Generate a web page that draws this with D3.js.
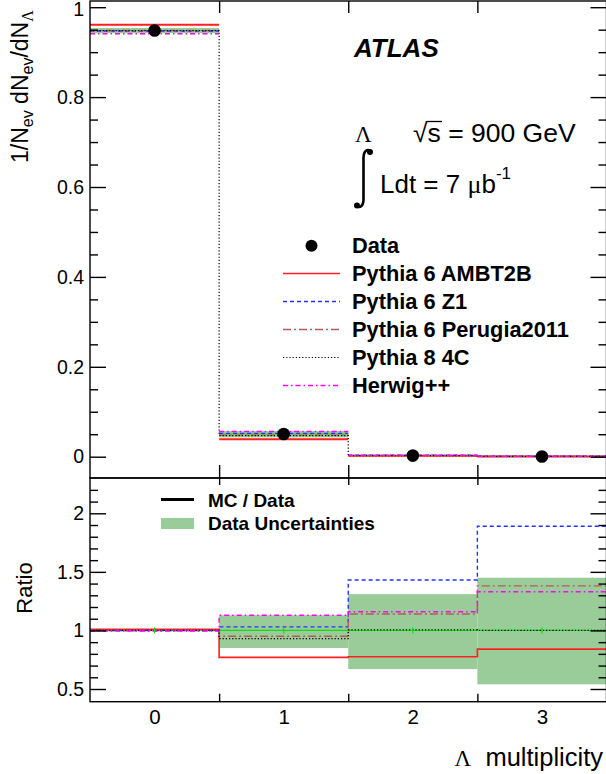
<!DOCTYPE html>
<html>
<head>
<meta charset="utf-8">
<script src="https://cdn.jsdelivr.net/npm/d3@7"></script>
<style>
  html, body { margin: 0; padding: 0; background: #fff; }
  svg { display: block; }
  text { font-family: "Liberation Sans", Arial, Helvetica, sans-serif; fill: #000; }
</style>
</head>
<body>
<svg id="chart" width="606" height="774"></svg>
<script>
// ---------------- data ----------------
const categories = [0, 1, 2, 3];
const binEdges = [-0.5, 0.5, 1.5, 2.5, 3.5];

const dataValues = [0.948, 0.0505, 0.0025, 0.0006];
const dataUncLo = [0.994, 0.85, 0.67, 0.54];   // relative (ratio panel band)
const dataUncHi = [1.006, 1.13, 1.31, 1.45];

const ambt2bValues   = [0.961, 0.0389, 0.0019, 0.0005];
const z1Values       = [0.947, 0.052, 0.0036, 0.0011];
const perugiaValues  = [0.948, 0.048, 0.0029, 0.0008];
const pythia8Values  = [0.948, 0.047, 0.0025, 0.0006];
const herwigValues   = [0.941, 0.056, 0.0029, 0.0008];

const ambt2bRatio  = [1.01, 0.77, 0.775, 0.84];
const z1Ratio      = [1.0, 1.03, 1.43, 1.89];
const perugiaRatio = [1.0, 0.95, 1.14, 1.38];
const pythia8Ratio = [1.0, 0.93, 1.005, 1.0];
const herwigRatio  = [0.995, 1.13, 1.16, 1.33];

const topTickValues = [0, 0.2, 0.4, 0.6, 0.8, 1];
const topTickLabels = ["0", "0.2", "0.4", "0.6", "0.8", "1"];
const ratioTickValues = [0.5, 1, 1.5, 2];
const ratioTickLabels = ["0.5", "1", "1.5", "2"];
const xTickLabels = ["0", "1", "2", "3"];

const seriesNames = ["Pythia 6 AMBT2B", "Pythia 6 Z1", "Pythia 6 Perugia2011", "Pythia 8 4C", "Herwig++"];

// ---------------- styles ----------------
const series = [
  { name: seriesNames[0], top: ambt2bValues, ratio: ambt2bRatio, color: "#ff2020", dash: null, w: 1.6, vTop: false },
  { name: seriesNames[1], top: z1Values, ratio: z1Ratio, color: "#2233ff", dash: "4,3", w: 1.4, vTop: false },
  { name: seriesNames[2], top: perugiaValues, ratio: perugiaRatio, color: "#b85a5a", dash: "8,3,2,3", w: 1.4, vTop: false },
  { name: seriesNames[3], top: pythia8Values, ratio: pythia8Ratio, color: "#000000", dash: "1.2,2", w: 1.2, vTop: true },
  { name: seriesNames[4], top: herwigValues, ratio: herwigRatio, color: "#ff00ff", dash: "5,3,1.5,3", w: 1.4, vTop: false }
];

const svg = d3.select("#chart");
svg.append("rect").attr("width", 606).attr("height", 774).attr("fill", "#fff");

const X0 = 90, X1 = 606.5;
const x = d3.scaleLinear().domain([-0.5, 3.5]).range([X0, X1]);
const yTop = d3.scaleLinear().domain([0, 1]).range([456.7, 7.2]);
const yRat = d3.scaleLinear().domain([0.5, 2]).range([689, 513.3]);
const TOP_Y0 = 1, TOP_Y1 = 478, RAT_Y0 = 478, RAT_Y1 = 701.7;

function stepPath(vals, yScale, withVerticals) {
  let d = "";
  vals.forEach((v, i) => {
    const xa = x(binEdges[i]), xb = x(binEdges[i + 1]), yy = yScale(v);
    if (i === 0 || !withVerticals) d += `M${xa},${yy}`;
    else d += `L${xa},${yy}`;
    d += `L${xb},${yy}`;
  });
  return d;
}

// ---------------- top panel ----------------
const gTop = svg.append("g");
gTop.selectAll("rect.band").data(categories).enter().append("rect")
  .attr("x", i => x(binEdges[i])).attr("width", i => x(binEdges[i + 1]) - x(binEdges[i]))
  .attr("y", i => yTop(dataValues[i] * dataUncHi[i]))
  .attr("height", i => Math.max(1, yTop(dataValues[i] * dataUncLo[i]) - yTop(dataValues[i] * dataUncHi[i])))
  .attr("fill", "#99cc99");
gTop.append("path").attr("d", stepPath(dataValues, yTop, false))
  .attr("fill", "none").attr("stroke", "#22cc22").attr("stroke-width", 1);

series.forEach(s => {
  gTop.append("path").attr("d", stepPath(s.top, yTop, s.vTop))
    .attr("fill", "none").attr("stroke", s.color).attr("stroke-width", s.name === seriesNames[0] ? 2 : s.w)
    .attr("stroke-dasharray", s.dash);
});
gTop.selectAll("circle.pt").data(categories).enter().append("circle")
  .attr("cx", i => x(i)).attr("cy", i => yTop(dataValues[i])).attr("r", 6.3).attr("fill", "#000");

// ---------------- ratio panel ----------------
const gRat = svg.append("g");
gRat.selectAll("rect.band").data(categories).enter().append("rect")
  .attr("x", i => x(binEdges[i])).attr("width", i => x(binEdges[i + 1]) - x(binEdges[i]))
  .attr("y", i => yRat(dataUncHi[i]))
  .attr("height", i => yRat(dataUncLo[i]) - yRat(dataUncHi[i]))
  .attr("fill", "#99cc99");
gRat.append("path").attr("d", stepPath(categories.map(() => 1), yRat, true))
  .attr("fill", "none").attr("stroke", "#11dd11").attr("stroke-width", 1.2);
series.forEach(s => {
  gRat.append("path").attr("d", stepPath(s.ratio, yRat, true))
    .attr("fill", "none").attr("stroke", s.color).attr("stroke-width", s.w)
    .attr("stroke-dasharray", s.dash);
});
gRat.selectAll("line.mk").data(categories).enter().append("line")
  .attr("x1", i => x(i)).attr("x2", i => x(i))
  .attr("y1", yRat(1) - 3).attr("y2", yRat(1) + 3)
  .attr("stroke", "#11dd11").attr("stroke-width", 1.2);

// ---------------- frames & axes ----------------
function frame(y0, y1) {
  svg.append("rect").attr("x", X0).attr("y", y0).attr("width", X1 - X0).attr("height", y1 - y0)
    .attr("fill", "none").attr("stroke", "#000").attr("stroke-width", 1.4);
}
frame(TOP_Y0, TOP_Y1);
frame(RAT_Y0, RAT_Y1);

function yAxes(scale, majors, labels, minors) {
  const fmt = d => labels[majors.indexOf(d)];
  const gL = svg.append("g").attr("transform", `translate(${X0},0)`)
    .call(d3.axisLeft(scale).tickValues(majors).tickSize(-16).tickPadding(6).tickFormat(fmt));
  svg.append("g").attr("transform", `translate(${X0},0)`)
    .call(d3.axisLeft(scale).tickValues(minors).tickSize(-8).tickFormat(""));
  svg.append("g").attr("transform", `translate(${X1},0)`)
    .call(d3.axisRight(scale).tickValues(majors).tickSize(-16).tickFormat(""));
  svg.append("g").attr("transform", `translate(${X1},0)`)
    .call(d3.axisRight(scale).tickValues(minors).tickSize(-8).tickFormat(""));
  gL.selectAll("text").style("font-size", "19.5px").attr("font-family", "Liberation Sans, Arial, sans-serif");
  return gL;
}
const topMinors = d3.range(1, 20).filter(i => i % 4 !== 0).map(i => i * 0.05);
const topAxis = yAxes(yTop, topTickValues, topTickLabels, topMinors);
// keep the topmost label inside the picture
topAxis.selectAll(".tick text").filter(d => d === 1).attr("dy", "0.42em");
const ratMinors = d3.range(6, 23).filter(i => i % 5 !== 0).map(i => i * 0.1);
yAxes(yRat, ratioTickValues, ratioTickLabels, ratMinors);

const innerEdges = binEdges.slice(1, -1);
svg.append("g").attr("transform", `translate(0,${TOP_Y1})`)
  .call(d3.axisBottom(x).tickValues(innerEdges).tickSize(-13).tickFormat(""));
svg.append("g").attr("transform", `translate(0,${TOP_Y0})`)
  .call(d3.axisTop(x).tickValues(innerEdges).tickSize(-12).tickFormat(""));
svg.append("g").attr("transform", `translate(0,${RAT_Y0})`)
  .call(d3.axisTop(x).tickValues(innerEdges).tickSize(-7).tickFormat(""));
svg.append("g").attr("transform", `translate(0,${RAT_Y1})`)
  .call(d3.axisBottom(x).tickValues(innerEdges).tickSize(-8).tickFormat(""));
const xl = svg.append("g").attr("transform", `translate(0,${RAT_Y1})`)
  .call(d3.axisBottom(x).tickValues(categories).tickSize(0).tickPadding(8).tickFormat(d => xTickLabels[d]));
xl.selectAll("text").style("font-size", "20.5px");

svg.selectAll(".domain").remove();
svg.selectAll(".tick line").attr("stroke", "#000").attr("stroke-width", 1.4);

// ---------------- titles ----------------
svg.append("text").attr("transform", "translate(28,163) rotate(-90)")
  .style("font-size", "23px")
  .html('1/N<tspan dy="5" style="font-size:16px">ev</tspan><tspan dy="-5"> dN</tspan><tspan dy="5" style="font-size:16px">ev</tspan><tspan dy="-5">/dN</tspan><tspan dy="5" style="font-size:16px;font-family:Liberation Serif, serif">Λ</tspan>');

svg.append("text").attr("transform", "translate(32,588) rotate(-90)")
  .attr("text-anchor", "middle").style("font-size", "22px").text("Ratio");

const xt = svg.append("text").attr("x", 603).attr("y", 766).attr("text-anchor", "end").style("font-size", "25.5px");
xt.append("tspan").style("font-family", "Liberation Serif, serif").style("font-size", "23px").text("Λ");
xt.append("tspan").text("\u00a0\u00a0multiplicity");

svg.append("text").attr("x", 354).attr("y", 57).style("font-size", "26px")
  .style("font-weight", "bold").style("font-style", "italic").text("ATLAS");

svg.append("text").attr("x", 355).attr("y", 142).style("font-family", "Liberation Serif, serif")
  .style("font-size", "23px").text("Λ");
const sq = svg.append("text").attr("x", 413).attr("y", 142).style("font-size", "26.5px");
sq.append("tspan").text("√");
sq.append("tspan").text("s");
sq.append("tspan").text(" = 900 GeV");
svg.append("line").attr("x1", 427).attr("x2", 442).attr("y1", 121.5).attr("y2", 121.5)
  .attr("stroke", "#000").attr("stroke-width", 1.3);

svg.append("path").attr("d", "M370.5,151 C367,148.5 363.5,151 363.5,158 L363.5,199 C363.5,206 360,208.5 356.5,206")
  .attr("fill", "none").attr("stroke", "#000").attr("stroke-width", 2.6);
svg.append("circle").attr("cx", 370).attr("cy", 152).attr("r", 3).attr("fill", "#000");
svg.append("circle").attr("cx", 357).attr("cy", 205.5).attr("r", 3).attr("fill", "#000");
const lt = svg.append("text").attr("x", 380).attr("y", 193).style("font-size", "26px");
lt.append("tspan").text("Ldt = 7 ");
lt.append("tspan").style("font-family", "Liberation Serif, serif").text("μ");
lt.append("tspan").text("b");
lt.append("tspan").attr("dy", -14).style("font-size", "17px").text("-1");

// ---------------- legends ----------------
const leg = svg.append("g");
const legRows = [253.3, 281, 309, 337, 365, 393];
leg.append("circle").attr("cx", 311.5).attr("cy", 245.7).attr("r", 6).attr("fill", "#000");
leg.append("text").attr("x", 352).attr("y", legRows[0]).style("font-size", "21.8px")
  .style("font-weight", "bold").text("Data");
series.forEach((s, i) => {
  const yy = legRows[i + 1] - 7.5;
  leg.append("line").attr("x1", 283).attr("x2", 340).attr("y1", yy).attr("y2", yy)
    .attr("stroke", s.color).attr("stroke-width", s.w).attr("stroke-dasharray", s.dash);
  leg.append("text").attr("x", 352).attr("y", legRows[i + 1]).style("font-size", "21.8px")
    .style("font-weight", "bold").text(s.name);
});

const rleg = svg.append("g");
rleg.append("line").attr("x1", 161).attr("x2", 194).attr("y1", 499.5).attr("y2", 499.5)
  .attr("stroke", "#000").attr("stroke-width", 3);
rleg.append("text").attr("x", 208).attr("y", 506.7).style("font-size", "19px")
  .style("font-weight", "bold").text("MC / Data");
rleg.append("rect").attr("x", 161).attr("y", 518).attr("width", 33).attr("height", 11).attr("fill", "#99cc99");
rleg.append("text").attr("x", 208).attr("y", 530).style("font-size", "19px")
  .style("font-weight", "bold").text("Data Uncertainties");
</script>
</body>
</html>
